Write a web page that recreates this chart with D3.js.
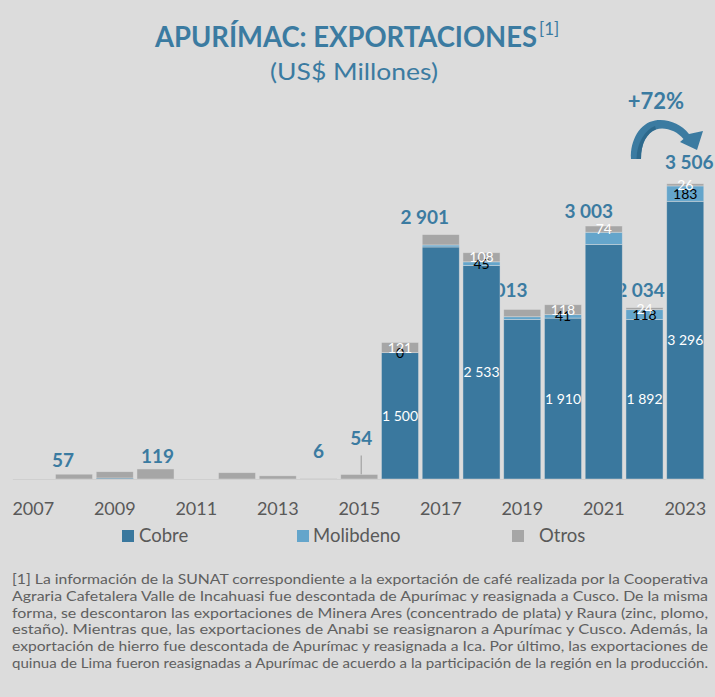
<!DOCTYPE html>
<html><head><meta charset="utf-8">
<script src="https://cdn.jsdelivr.net/npm/d3@7"></script>
<style>
html,body{margin:0;padding:0;background:#dcdcdc}
svg{display:block}
text{font-family:Lato,"Open Sans",sans-serif}
</style>
</head><body>
<svg id="chart" width="715" height="697"></svg>
<script>
// ---------- DATA ----------
const years = [2007,2008,2009,2010,2011,2012,2013,2014,2015,2016,2017,2018,2019,2020,2021,2022,2023];
const cobre     = [0,0,12,0,0,0,0,0,0,1500,2754,2533,1894,1910,2783,1892,3296];
const molibdeno = [0,0,0,0,0,0,0,0,0,0,24,45,32,41,146,118,183];
const otros     = [0,57,75,119,0,75,38,6,54,121,123,108,87,118,74,24,26];
const totalLabels   = [null,57,null,119,null,null,null,6,54,null,2901,null,2013,null,3003,2034,3506];
const cobreLabels   = [null,null,null,null,null,null,null,null,null,1500,null,2533,null,1910,null,1892,3296];
const moliLabels    = [null,null,null,null,null,null,null,null,null,0,null,45,null,41,null,118,183];
const otrosLabels   = [null,null,null,null,null,null,null,null,null,121,null,108,null,118,74,24,26];
const tickYears = [2007,2009,2011,2013,2015,2017,2019,2021,2023];
const seriesNames = ["Cobre","Molibdeno","Otros"];
const footnote = [
 "[1] La información de la SUNAT correspondiente a la exportación de café realizada por la Cooperativa",
 "Agraria Cafetalera Valle de Incahuasi fue descontada de Apurímac y reasignada a Cusco. De la misma",
 "forma, se descontaron las exportaciones de Minera Ares (concentrado de plata) y Raura (zinc, plomo,",
 "estaño). Mientras que, las exportaciones de Anabi se reasignaron a Apurímac y Cusco. Además, la",
 "exportación de hierro fue descontada de Apurímac y reasignada a Ica. Por último, las exportaciones de",
 "quinua de Lima fueron reasignadas a Apurímac de acuerdo a la participación de la región en la producción."
];

// ---------- LAYOUT / STYLE ----------
const colors = {Cobre:"#3a789e", Molibdeno:"#64a5cb", Otros:"#a6a6a6"};
const titleColor = "#3b7ba1";
const textGray = "#595959";
// label nudges [dx, dy] relative to bar centre / bar top
const totalNudge = {2008:[-11,-7],2010:[2,-6],2014:[0,-20],2015:[2,-29],2017:[-16,-11],2019:[-19,-12],2021:[-15,-8],2022:[-4,-11],2023:[4,-15]};

const svg = d3.select("#chart");
svg.append("rect").attr("width",715).attr("height",697).attr("fill","#dcdcdc");

const x = d3.scaleBand().domain(years).range([12.875, 705.625]).paddingInner(0.09).paddingOuter(0.045);
const y = d3.scaleLinear().domain([0,4000]).range([479, 142]);
const bw = x.bandwidth();
const fmt = d3.formatLocale({decimal:",", thousands:" ", grouping:[3], currency:["",""]}).format(",d");

// stacked data
const rows = years.map((yr,i)=>({year:yr, Cobre:cobre[i], Molibdeno:molibdeno[i], Otros:otros[i]}));
const stack = d3.stack().keys(seriesNames)(rows);

// ---------- TITLE ----------
svg.append("text").attr("x",155).attr("y",47).attr("fill",titleColor)
  .attr("font-weight",700).attr("font-size",28).attr("textLength",382).attr("lengthAdjust","spacingAndGlyphs")
  .text("APURÍMAC: EXPORTACIONES");
svg.append("text").attr("x",539).attr("y",35).attr("fill",titleColor)
  .attr("font-size",17).text("[1]");
svg.append("text").attr("x",270).attr("y",80).attr("fill",titleColor)
  .attr("font-size",24).attr("textLength",168).attr("lengthAdjust","spacingAndGlyphs").text("(US$ Millones)");

// ---------- TOTAL LABELS (behind bars) ----------
const gTot = svg.append("g");
years.forEach((yr,i)=>{
  const v = totalLabels[i]; if(v==null) return;
  const n = totalNudge[yr] || [0,-10];
  const tot = cobre[i]+molibdeno[i]+otros[i];
  const lx = x(yr)+bw/2+n[0], ly = y(tot)+n[1];
  gTot.append("text").attr("x",lx).attr("y",ly).attr("text-anchor","middle")
    .attr("font-weight",700).attr("font-size",19).attr("fill",titleColor).text(fmt(v));
  if (n[1] < -25) {
    gTot.append("line").attr("x1",lx).attr("x2",lx).attr("y1",ly+10).attr("y2",y(tot)+1.5)
      .attr("stroke","#a6a6a6").attr("stroke-width",1.3);
  }
});

// ---------- BARS ----------
const gBars = svg.append("g");
stack.forEach(s=>{
  gBars.selectAll(null).data(s).join("rect")
    .attr("x",d=>x(d.data.year)).attr("width",bw)
    .attr("y",d=>y(d[1])).attr("height",d=>Math.max(0,y(d[0])-y(d[1])))
    .attr("fill",colors[s.key])
    .attr("stroke","rgba(225,225,225,0.55)").attr("stroke-width",0.8);
});

// axis line
svg.append("line").attr("x1",12.875).attr("x2",705.625).attr("y1",y(0)+0.5).attr("y2",y(0)+0.5)
  .attr("stroke","#cfcfcf").attr("stroke-width",1);

// ---------- SEGMENT LABELS ----------
const gSeg = svg.append("g").attr("font-size",14).attr("text-anchor","middle");
function segLabels(arr, layerIdx, color){
  years.forEach((yr,i)=>{
    const v = arr[i]; if(v==null) return;
    const d = stack[layerIdx][i];
    gSeg.append("text").attr("x",x(yr)+bw/2).attr("y",(y(d[0])+y(d[1]))/2).attr("dy","0.36em")
      .attr("fill",color).text(fmt(v));
  });
}
segLabels(cobreLabels,0,"#ffffff");
segLabels(moliLabels,1,"#000000");
segLabels(otrosLabels,2,"#ffffff");

// ---------- X AXIS ----------
const ax = svg.append("g").attr("transform",`translate(0,${y(0)})`)
  .call(d3.axisBottom(x).tickValues(tickYears).tickSize(0));
ax.select(".domain").remove();
ax.selectAll("text").attr("y",36).attr("dy",0).attr("font-size",18)
  .attr("font-family","Lato").attr("fill",textGray);

// ---------- LEGEND ----------
const legendPos = [{sq:122, tx:139},{sq:297, tx:313},{sq:512, tx:539}];
seriesNames.forEach((k,i)=>{
  svg.append("rect").attr("x",legendPos[i].sq).attr("y",530).attr("width",12).attr("height",12).attr("fill",colors[k]);
  svg.append("text").attr("x",legendPos[i].tx).attr("y",542).attr("font-size",18.5).attr("fill",textGray).text(k);
});

// ---------- ARROW +72% ----------
svg.append("text").attr("x",656).attr("y",109).attr("text-anchor","middle").attr("font-weight",700)
  .attr("font-size",22).attr("fill",titleColor).text("+72%");
svg.append("path").attr("fill",titleColor)
  .attr("d","M631,159 C630,140 640,123 655,120.5 C668,118.5 681,124 689,134 L703,131 L697,150 L680,142 L683.5,139 C677,131 665,126.5 656,129.5 C647,133 641,143 641,159 Z");
svg.append("path").attr("fill","#2b6587").attr("opacity",0.8)
  .attr("d","M641,159 C641,143 647,133 656,129.5 L655,126 C645,130 637,142 636.5,159 Z");

// ---------- FOOTNOTE ----------
footnote.forEach((line,i)=>{
  svg.append("text").attr("x",12).attr("y",584+i*16.8).attr("font-size",14).attr("fill","#606060")
    .attr("textLength",696).attr("lengthAdjust","spacingAndGlyphs").text(line);
});
</script>
</body></html>
